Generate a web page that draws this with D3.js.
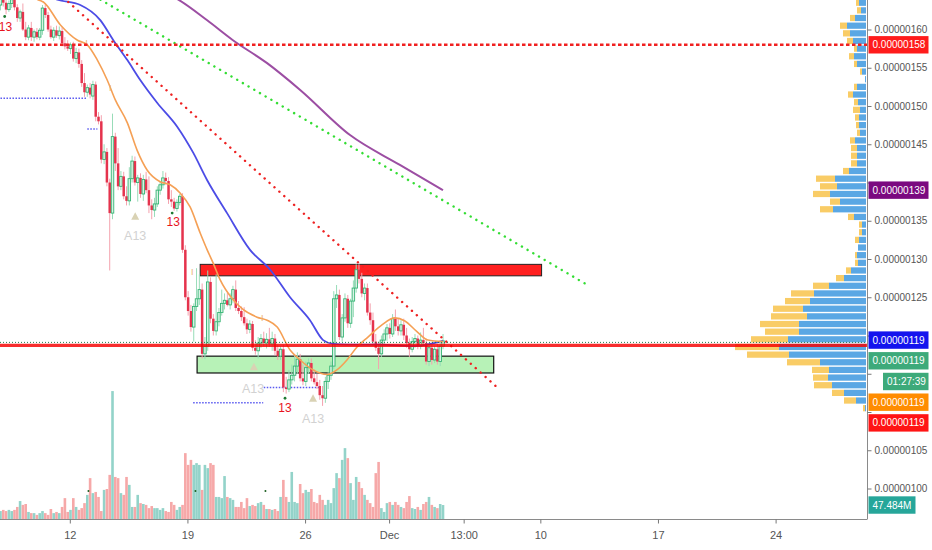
<!DOCTYPE html>
<html><head><meta charset="utf-8">
<script src="https://cdn.jsdelivr.net/npm/d3@7"></script>
<style>body{margin:0;background:#fff;}svg{display:block;font-family:"Liberation Sans",Arial,sans-serif;}</style>
</head><body><svg id="c" width="932" height="550"></svg>
<script>
// ---------- DATA (prices in units of 1e-8 ... shown as 0.00000xxx) ----------
const startTime = new Date(2018, 10, 7, 21);   // first 4h candle
const barHours = 4;
const opens  = [163.2,164.0,163.5,162.6,163.4,163.9,162.9,161.5,162.3,160.0,159.0,160.2,159.0,159.7,159.0,159.9,162.8,161.9,160.0,159.0,159.9,159.2,159.8,158.2,157.8,157.5,158.0,156.2,157.0,155.5,153.0,151.8,152.4,151.3,152.8,148.6,148.0,143.0,144.0,140.0,136.0,146.0,142.5,139.5,140.8,138.2,137.6,140.5,142.8,140.0,140.6,138.5,140.4,139.0,137.0,136.4,137.2,139.0,139.7,140.6,140.2,137.8,137.5,136.6,137.4,138.2,131.2,125.0,123.2,121.1,123.8,124.8,126.0,117.6,118.6,127.0,122.2,120.6,121.8,123.0,124.2,124.6,124.0,124.8,126.0,123.6,123.2,122.4,121.6,120.8,121.5,118.4,118.0,119.0,119.6,119.0,119.5,118.9,119.6,118.0,117.3,118.2,113.2,113.0,114.2,114.8,116.0,116.9,114.4,114.0,115.8,116.4,114.4,113.9,113.4,112.2,111.8,114.0,114.8,116.0,124.8,125.3,119.8,122.3,124.8,121.6,124.5,126.2,128.6,127.4,125.5,126.2,123.0,122.0,119.2,118.4,117.6,119.4,120.2,121.0,120.2,122.2,121.2,120.6,121.4,120.0,119.0,118.2,119.2,119.6,118.6,119.4,119.0,116.6,118.4,116.8,118.2,116.6,118.6];
const highs  = [164.5,164.8,164.2,163.8,164.3,164.6,163.3,162.6,163.4,161.0,160.6,161.0,160.0,160.2,160.2,163.2,163.4,162.3,160.5,160.3,160.5,160.4,160.3,159.0,158.6,158.3,158.4,157.6,157.5,156.0,154.3,152.8,153.0,153.3,153.2,149.2,148.8,145.0,144.5,140.5,149.0,146.5,144.5,141.5,141.4,139.5,142.0,143.5,143.4,141.0,141.2,141.0,141.4,140.8,137.8,138.0,139.5,140.2,141.5,141.3,140.7,139.0,138.0,137.8,138.5,138.6,131.8,125.8,124.0,124.2,128.8,128.0,126.8,119.8,128.5,127.6,122.8,128.0,123.6,126.0,125.5,125.6,125.5,126.5,127.2,124.5,123.8,123.7,122.2,122.0,121.9,119.4,119.8,120.2,120.5,120.3,121.0,120.5,120.2,118.8,118.6,118.8,114.6,115.5,116.2,117.5,117.8,117.6,116.2,116.6,117.0,117.0,115.6,115.0,114.2,113.4,114.6,115.2,116.6,125.8,126.6,126.0,122.8,125.5,125.3,124.8,127.2,129.3,129.3,128.2,126.8,126.8,124.2,123.0,120.2,119.2,120.0,120.8,121.5,121.6,122.8,123.4,122.2,122.0,122.2,121.0,119.6,119.8,120.2,120.0,120.4,121.0,119.6,118.8,118.9,118.6,118.9,119.0,120.2];
const lows   = [162.5,163.0,162.0,162.3,162.8,162.5,161.0,161.0,159.8,158.6,158.6,158.5,158.4,158.7,158.6,159.3,161.5,159.7,158.8,158.5,158.9,158.7,157.8,157.4,157.2,156.8,155.8,155.6,155.0,152.5,151.2,151.2,151.0,150.8,148.0,147.6,142.5,142.4,139.5,128.5,135.2,141.5,139.0,139.0,137.8,137.0,137.0,140.0,139.6,137.5,138.0,137.6,138.6,136.0,135.2,135.5,136.8,138.4,139.2,139.7,137.2,136.8,136.3,136.2,137.0,130.8,124.6,122.6,120.5,119.2,123.2,124.0,117.0,116.9,118.0,121.6,120.0,120.0,121.2,122.6,123.4,123.8,123.4,124.2,123.2,122.8,121.9,121.3,120.2,120.3,118.0,117.5,117.0,118.4,118.6,118.3,118.5,118.0,117.4,116.8,116.8,112.6,112.4,112.6,113.6,114.0,115.0,114.0,113.5,113.4,115.0,114.0,113.6,113.0,111.6,110.8,111.2,113.0,114.2,115.6,123.6,119.4,119.2,121.8,121.0,121.0,122.4,125.6,126.8,125.0,124.6,122.6,121.4,118.6,118.0,115.6,117.2,118.8,119.3,119.6,119.8,120.6,120.0,120.0,119.4,118.4,117.2,117.8,118.4,118.2,118.2,118.6,116.2,116.0,116.2,116.4,116.2,116.0,118.2];
const closes = [164.0,163.5,162.6,163.4,163.9,162.9,161.5,162.3,160.0,159.0,160.2,159.0,159.7,159.0,159.9,162.8,161.9,160.0,159.0,159.9,159.2,159.8,158.2,157.8,157.5,158.0,156.2,157.0,155.5,153.0,151.8,152.4,151.5,152.8,148.6,148.0,143.0,144.0,140.0,136.0,146.0,142.5,139.5,140.8,138.2,137.6,140.5,142.8,140.0,140.6,138.5,140.4,139.0,137.0,136.4,137.2,139.0,139.7,140.6,140.2,137.8,137.5,136.6,137.4,138.2,131.2,125.0,123.2,121.1,123.8,124.8,126.0,117.6,118.6,127.0,122.2,120.6,121.8,123.0,124.2,124.6,124.0,124.8,126.0,123.6,123.2,122.4,121.6,120.8,121.5,118.4,118.0,119.0,119.6,119.0,119.5,118.9,119.6,118.0,117.3,118.2,113.2,113.0,114.2,114.8,116.0,116.9,114.4,114.0,115.8,116.4,114.4,113.9,113.4,112.2,111.8,114.0,114.8,116.0,124.8,125.3,119.8,122.3,124.8,121.6,124.5,126.2,128.6,127.4,125.5,126.2,123.0,122.0,119.2,118.4,117.6,119.4,120.2,121.0,120.2,122.2,121.2,120.6,121.4,120.0,119.0,118.2,119.2,119.6,118.6,119.4,119.0,116.6,118.4,116.8,118.2,116.6,118.6,119.3];
// volume in millions
const volumes = [27,31,27,31,27,31,41,61,48,51,24,20,20,14,20,27,20,14,34,20,24,20,41,71,24,31,71,41,31,37,54,82,139,88,92,75,27,99,102,150,435,143,139,88,82,143,116,41,41,82,54,51,48,37,44,37,37,31,37,27,24,58,48,31,41,48,224,184,201,184,190,184,99,184,173,190,184,75,75,71,146,75,71,65,41,41,58,37,71,44,48,44,54,58,48,34,34,31,34,27,75,133,75,58,160,58,54,119,88,99,92,102,58,54,82,65,48,65,54,105,156,139,201,241,207,122,65,143,126,105,82,65,54,41,156,194,37,24,54,58,48,58,48,41,37,58,78,37,34,41,31,51,58,75,48,41,37,51,47.484];

const priceTicks = [100,105,110,115,120,125,130,135,140,145,150,155,160];
const hiddenTickLabels = [110,115,120,140];   // covered by value tags
const timeTicks = [new Date(2018,10,12), new Date(2018,10,19), new Date(2018,10,26), new Date(2018,11,1), new Date(2018,11,5,10,30), new Date(2018,11,10), new Date(2018,11,17), new Date(2018,11,24)];
const timeTickLabels = ["12","19","26","Dec","13:00","10","17","24"];

// moving averages: [bar index, price]
const emaFast = [[13.2,163.9],[15.3,163.6],[21.4,160.6],[27.5,158.6],[31,158.0],[34.6,156.0],[38.1,153.4],[41,150.8],[45.3,147.8],[48.8,144.2],[52.4,141.6],[57,140.1],[60.6,139.7],[64.2,138.6],[67.7,136.8],[71.3,133.4],[73.8,131.2],[75.9,129.5],[78.4,127.3],[83,124.7],[86.6,123.4],[91.6,122.4],[95.2,122.0],[98.8,121.1],[103.4,118.1],[107,116.8],[111.6,115.5],[116.6,114.9],[120.1,115.5],[123.7,116.8],[127.3,118.5],[131.2,119.8],[136.2,121.4],[140.8,122.3],[144.4,121.9],[148.7,120.5],[152.6,119.4],[158,119.2]];
const emaSlow = [[16,164.5],[20.3,163.9],[28.5,163.2],[35.7,161.2],[40.3,158.6],[45.3,156.0],[49.9,153.4],[56,150.4],[63.1,147.3],[68.8,143.9],[73.8,140.3],[80.9,136.0],[89.1,131.2],[96.3,128.6],[103.4,125.0],[110.5,122.0],[115.2,119.4],[118.7,118.9],[123.7,118.8],[135.5,118.8],[147.2,118.6],[158,119.3]];
const ma200 = [[60,164.6],[63.5,163.9],[73.8,161.2],[83,158.6],[95.2,155.6],[107,152.1],[124.8,146.2],[142.6,142.3],[158,139.0]];

// drawings
const trendRed = [[24.2,163.6],[178.3,112.9]];
const trendGreen = [[35.7,163.9],[209.6,126.6]];
const resistZone = [71.3,193.2,129.3,127.8];
const supportZone = [70.2,176.1,117.3,115.1];
const levelDotted = 158;
const levelSolid = 118.7;
const lastPrice = 119.1;
const stopLines = [[0,30.7,151.0],[31,34.6,147.0],[68.8,93.8,111.2],[94,114,113.2]];

// signals
const red13 = [[1.8,160.3],[61.7,134.8],[101.6,110.6]];
const red13Dots = [[1.5,161.7],[61.3,136.0],[101.6,111.8]];
const a13Text = [[48.1,133.1],[90.2,113.1],[111.6,109.1]];
const a13Tri = [[48.1,135.6],[90.5,115.9],[111.6,111.8]];
const iMarks = [[30.7,158.2],[39.2,152.4],[68.5,128.3],[93.5,122.3]];
const volDots = [31.4,69.6,94.6];

// volume profile: bin lower price, down (yellow), up (blue)
const profileBins = [163,162,161,160,159,158,157,156,155,154,153,152,151,150,149,148,147,146,145,144,143,142,141,140,139,138,137,136,135,134,133,132,131,130,129,128,127,126,125,124,123,122,121,120,119,118,117,116,115,114,113,112,111,110];
const profileDown = [3,4,5,7,7,6,3,5,3,2,0,3,5,4,7,4,3,3,5,6,6,6,6,19,17,17,10,13,6,3,3,4,0,2,3,5,8,16,23,25,30,36,39,34,37,44,42,33,17,15,18,12,12,2];
const profileUp   = [7,5,11,19,16,13,9,12,9,4,1,9,13,8,6,7,7,6,11,9,9,9,17,31,29,36,26,33,12,4,4,7,8,9,8,15,22,37,52,56,63,59,67,67,78,87,77,46,37,38,34,22,10,1];

// right-side value labels
const topLabels = [[158,"#ff1c1c"],[139,"#7b0a80"]];
const stackLabels = [["0.00000119","#1414ee"],["0.00000119","#3daa7a"],["01:27:39","#3daa7a"],["0.00000119","#ff8c00"],["0.00000119","#ff1414"]];
const stackStart = 119.4;

// ---------- CHART ----------
const W = 932, H = 550, plotR = 867, plotB = 519;
const svg = d3.select("#c");
const x = d3.scaleTime().domain([new Date(2018,10,12), new Date(2018,11,24)]).range([69.8, 775.6]);
const y = d3.scaleLinear().domain([100,160]).range([488.5,29.5]);
const vScale = d3.scaleLinear().domain([0,440]).range([plotB, plotB-129.4]);
const vpScale = d3.scaleLinear().domain([0,131]).range([0,131]);
const tAt = i => new Date(startTime.getTime() + i*barHours*3600e3);
const xi = i => x(tAt(i));
const fmt = p => (p/1e8).toFixed(8);

svg.append("defs").append("clipPath").attr("id","plot").append("rect").attr("x",0).attr("y",0).attr("width",plotR).attr("height",plotB);
const g = svg.append("g").attr("clip-path","url(#plot)");

const candles = closes.map((c,i)=>({i, o:opens[i], h:highs[i], l:lows[i], c, v:volumes[i], up:c>=opens[i]}));

// volume
g.append("g").selectAll("rect").data(candles).join("rect")
  .attr("x", d=>xi(d.i)-1.3).attr("width",2.6)
  .attr("y", d=>vScale(d.v)).attr("height", d=>plotB - vScale(d.v))
  .attr("fill", d=>d.up ? "#93d3c9" : "#f6a8a8");
g.append("g").selectAll("circle").data(volDots).join("circle")
  .attr("cx", d=>xi(d)).attr("cy", 491).attr("r",1).attr("fill","#1b5e20");

// volume profile
const vp = profileBins.map((p,k)=>({p, dn:profileDown[k], up:profileUp[k]}));
const vpg = g.append("g");
vp.forEach(d=>{
  const yt = y(d.p+1)+0.7, hh = y(d.p)-y(d.p+1)-1.4;
  vpg.append("rect").attr("x", plotR-1-vpScale(d.up)).attr("width", vpScale(d.up)).attr("y",yt).attr("height",hh).attr("fill","#5aa7e4");
  vpg.append("rect").attr("x", plotR-1-vpScale(d.up)-vpScale(d.dn)).attr("width", vpScale(d.dn)).attr("y",yt).attr("height",hh).attr("fill","#f9cc66");
});

// zones
g.append("rect").attr("x", xi(resistZone[0])).attr("width", xi(resistZone[1])-xi(resistZone[0]))
  .attr("y", y(resistZone[2])).attr("height", y(resistZone[3])-y(resistZone[2]))
  .attr("fill","#ff2020").attr("stroke","#222").attr("stroke-width",1);
g.append("rect").attr("x", xi(supportZone[0])).attr("width", xi(supportZone[1])-xi(supportZone[0]))
  .attr("y", y(supportZone[2])).attr("height", y(supportZone[3])-y(supportZone[2]))
  .attr("fill","#b7f2b7").attr("stroke","#111").attr("stroke-width",1.2);

// stop lines (blue dotted)
g.append("g").selectAll("line").data(stopLines).join("line")
  .attr("x1", d=>Math.max(0,xi(d[0]))).attr("x2", d=>xi(d[1])).attr("y1", d=>y(d[2])).attr("y2", d=>y(d[2]))
  .attr("stroke","#5a5af0").attr("stroke-width",1.5).attr("stroke-dasharray","1.5,1.5");

// candles
const cg = g.append("g");
cg.selectAll("line").data(candles).join("line")
  .attr("x1", d=>xi(d.i)).attr("x2", d=>xi(d.i)).attr("y1", d=>y(d.h)).attr("y2", d=>y(d.l))
  .attr("stroke", d=>d.up ? "#98dcb8" : "#f4a2ae").attr("stroke-width",1);
cg.selectAll("rect").data(candles).join("rect")
  .attr("x", d=>xi(d.i)-1.25).attr("width",2.5)
  .attr("y", d=>y(Math.max(d.o,d.c))).attr("height", d=>Math.max(1, Math.abs(y(d.o)-y(d.c))))
  .attr("fill", d=>d.up ? "#d8f3e4" : "#e5334d")
  .attr("stroke", d=>d.up ? "#35b474" : "none").attr("stroke-width",0.9);

// MAs
const line = d3.line().x(d=>xi(d[0])).y(d=>y(d[1])).curve(d3.curveMonotoneX);
g.append("path").datum(ma200).attr("d",line).attr("fill","none").attr("stroke","#9c4ea3").attr("stroke-width",2);
g.append("path").datum(emaSlow).attr("d",line).attr("fill","none").attr("stroke","#4c4ce6").attr("stroke-width",1.8);
g.append("path").datum(emaFast).attr("d",line).attr("fill","none").attr("stroke","#f5a055").attr("stroke-width",1.6);

// trend lines
const tl = d3.line().x(d=>xi(d[0])).y(d=>y(d[1]));
g.append("path").datum(trendRed).attr("d",tl).attr("stroke","#ee2222").attr("stroke-width",2.4).attr("stroke-linecap","round").attr("stroke-dasharray","0.1,6.5").attr("fill","none");
g.append("path").datum(trendGreen).attr("d",tl).attr("stroke","#33dd33").attr("stroke-width",2.4).attr("stroke-linecap","round").attr("stroke-dasharray","0.1,6.5").attr("fill","none");

// horizontal levels
svg.append("line").attr("x1",0).attr("x2",plotR).attr("y1",y(levelDotted)).attr("y2",y(levelDotted))
  .attr("stroke","#f02020").attr("stroke-width",2.4).attr("stroke-dasharray","3.5,2.5");
svg.append("line").attr("x1",0).attr("x2",plotR).attr("y1",y(lastPrice)).attr("y2",y(lastPrice))
  .attr("stroke","#1f7a4a").attr("stroke-width",1).attr("stroke-dasharray","1,2");
svg.append("line").attr("x1",0).attr("x2",plotR).attr("y1",y(levelSolid)).attr("y2",y(levelSolid))
  .attr("stroke","rgba(245,0,0,0.82)").attr("stroke-width",3.2);

// signals
const sg = g.append("g");
sg.selectAll(".r13").data(red13).join("text").attr("class","r13")
  .attr("x", d=>xi(d[0])).attr("y", d=>y(d[1])).attr("dy","0.35em").attr("text-anchor","middle")
  .attr("font-size",12).attr("fill","#e8141e").text("13");
sg.selectAll("circle").data(red13Dots).join("circle")
  .attr("cx", d=>xi(d[0])).attr("cy", d=>y(d[1])).attr("r",1.4).attr("fill","#1e7a32");
sg.selectAll(".a13").data(a13Text).join("text").attr("class","a13")
  .attr("x", d=>xi(d[0])).attr("y", d=>y(d[1])).attr("dy","0.35em").attr("text-anchor","middle")
  .attr("font-size",12.5).attr("fill","#d2d2d2").text("A13");
sg.selectAll("path").data(a13Tri).join("path")
  .attr("d", d=>{const cx=xi(d[0]), cy=y(d[1]); return `M${cx-4},${cy+3.5}L${cx+4},${cy+3.5}L${cx},${cy-4}Z`;})
  .attr("fill","#d9d2b4");
sg.selectAll(".im").data(iMarks).join("text").attr("class","im")
  .attr("x", d=>xi(d[0])).attr("y", d=>y(d[1])).attr("dy","0.35em").attr("text-anchor","middle")
  .attr("font-size",9).attr("fill","#eab070").text("I");

// axes
svg.append("line").attr("x1",plotR+0.5).attr("x2",plotR+0.5).attr("y1",0).attr("y2",plotB).attr("stroke","#8a8a8a");
svg.append("line").attr("x1",0).attr("x2",plotR+0.5).attr("y1",plotB+0.5).attr("y2",plotB+0.5).attr("stroke","#8a8a8a");
const ay = svg.append("g").attr("transform",`translate(${plotR+0.5},0)`)
  .call(d3.axisRight(y).tickValues(priceTicks).tickFormat(d=>hiddenTickLabels.includes(d) ? "" : fmt(d)).tickSize(4).tickPadding(3));
ay.select(".domain").remove();
ay.selectAll("line").attr("stroke","#777");
ay.selectAll("text").attr("font-size",10).attr("fill","#555").attr("font-family","Liberation Sans, Arial, sans-serif");
const ax = svg.append("g").attr("transform",`translate(0,${plotB+0.5})`)
  .call(d3.axisBottom(x).tickValues(timeTicks).tickFormat((d,i)=>timeTickLabels[i]).tickSize(4).tickPadding(8));
ax.select(".domain").remove();
ax.selectAll("line").attr("stroke","#777");
ax.selectAll("text").attr("font-size",11).attr("fill","#555").attr("font-family","Liberation Sans, Arial, sans-serif");

// value labels
function tag(cy, text, color, x0, w){
  svg.append("rect").attr("x",x0).attr("y",cy-8.7).attr("width",w).attr("height",17.4).attr("fill",color);
  svg.append("text").attr("x",x0+4).attr("y",cy).attr("dy","0.35em").attr("font-size",10).attr("fill","#fff").text(text);
}
topLabels.forEach(d=>tag(y(d[0]), fmt(d[0]), d[1], plotR+1.5, 60));
stackLabels.forEach((d,k)=>{
  const cy = y(stackStart) + k*20.7;
  if (d[0].includes(":")) tag(cy, d[0], d[1], plotR+16, 45.5);
  else tag(cy, d[0], d[1], plotR+1.5, 60);
});
tag(vScale(volumes[volumes.length-1]), (volumes[volumes.length-1]).toFixed(3)+"M", "#26a69a", plotR+1.5, 47);
</script></body></html>
